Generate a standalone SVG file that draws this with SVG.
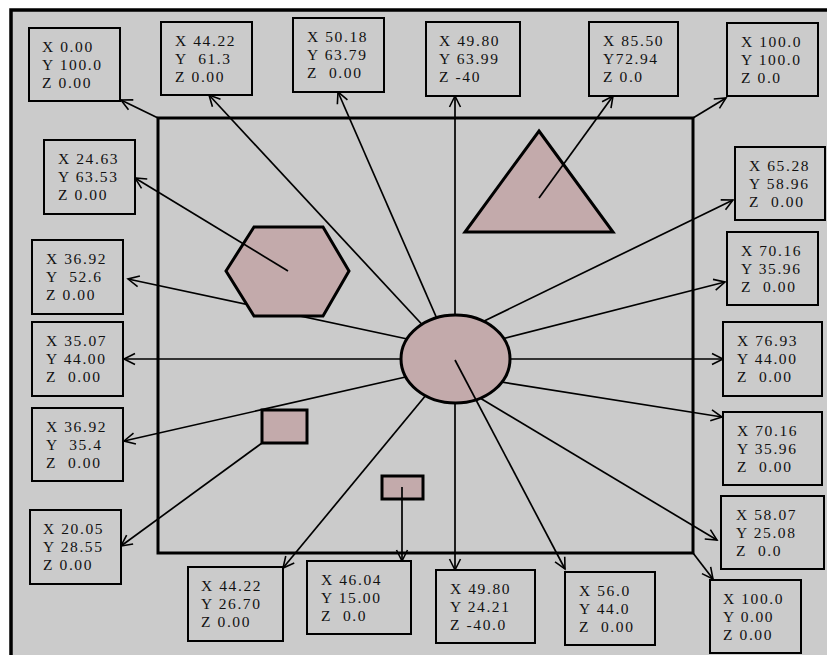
<svg xmlns="http://www.w3.org/2000/svg" width="827" height="655" viewBox="0 0 827 655">
  <defs>
    <marker id="arrow" markerUnits="userSpaceOnUse" markerWidth="16" markerHeight="16" viewBox="-12 -8 14 16" refX="0" refY="0" orient="auto">
      <path d="M-11,-5.5 L0,0 L-11,5.5" fill="none" stroke="#000" stroke-width="1.6"/>
    </marker>
  </defs>
  <style>
    .frame { fill: #cbcbcb; stroke: #000; stroke-width: 3.5; }
    .plate { fill: none; stroke: #000; stroke-width: 3; }
    .part { fill: #c3aaab; stroke: #000; stroke-width: 3; }
    .box { fill: #cbcbcb; stroke: #000; stroke-width: 2; }
    .lbl { font-family: "Liberation Serif", "Times New Roman", serif; font-size: 15.5px; letter-spacing: 1.6px; fill: #111; white-space: pre; }
    .wire { fill: none; stroke: #000; stroke-width: 1.7; marker-end: url(#arrow); }
  </style>

  <!-- sheet -->
  <rect x="0" y="0" width="827" height="655" fill="#ffffff"/>
  <rect x="11" y="10" width="830" height="660" class="frame"/>

  <!-- work plate -->
  <g id="plate">
    <rect x="158" y="118" width="535" height="435" class="plate"/>
  </g>

  <!-- leader lines running under the parts -->
  <g id="connectors">
    <path class="wire" d="M158,118 L121,100"/>
    <path class="wire" d="M455,360 L209,95"/>
    <path class="wire" d="M455,360 L338,92"/>
    <path class="wire" d="M455,360 L455,96"/>
    <path class="wire" d="M693,118 L726,98"/>
    <path class="wire" d="M412,340 L128,279"/>
    <path class="wire" d="M455,359 L124,359"/>
    <path class="wire" d="M410,376 L124,441"/>
    <path class="wire" d="M262,443 L121,546"/>
    <path class="wire" d="M455,360 L283,568"/>
    <path class="wire" d="M455,360 L455,570"/>
    <path class="wire" d="M475,395 L717,540"/>
    <path class="wire" d="M495,381 L722,417"/>
    <path class="wire" d="M455,359 L723,359"/>
    <path class="wire" d="M498,340 L725,282"/>
    <path class="wire" d="M478,324 L733,200"/>
    <path class="wire" d="M693,553 L713,579"/>
  </g>

  <!-- parts on the plate -->
  <g id="hexagon"><polygon class="part" points="226,271 254,227 323,227 349,271 323,316 254,316"/></g>
  <g id="triangle"><polygon class="part" points="539,131 613,232 465,232"/></g>
  <g id="ellipse"><ellipse class="part" cx="455.5" cy="359" rx="54.5" ry="44"/></g>
  <g id="rect-a"><rect class="part" x="262" y="410" width="45" height="33"/></g>
  <g id="rect-b"><rect class="part" x="382" y="476" width="41" height="23"/></g>

  <!-- leader lines starting inside a part -->
  <g id="pointers">
    <path class="wire" d="M539,198 L613,96"/>
    <path class="wire" d="M288,271 L135,178"/>
    <path class="wire" d="M402,487 L402,561"/>
    <path class="wire" d="M455,360 L565,569"/>
  </g>

  <!-- coordinate labels -->
  <g id="p01"><rect class="box" x="29" y="28" width="91" height="73"/><text class="lbl" x="42" y="52">X 0.00</text><text class="lbl" x="42" y="70">Y 100.0</text><text class="lbl" x="42" y="88">Z 0.00</text></g>
  <g id="p02"><rect class="box" x="161" y="22" width="91" height="73"/><text class="lbl" x="175" y="46">X 44.22</text><text class="lbl" x="175" y="64">Y  61.3</text><text class="lbl" x="175" y="82">Z 0.00</text></g>
  <g id="p03"><rect class="box" x="293" y="18" width="91" height="74"/><text class="lbl" x="307" y="42">X 50.18</text><text class="lbl" x="307" y="60">Y 63.79</text><text class="lbl" x="307" y="78">Z  0.00</text></g>
  <g id="p04"><rect class="box" x="426" y="22" width="94" height="74"/><text class="lbl" x="439" y="46">X 49.80</text><text class="lbl" x="439" y="64">Y 63.99</text><text class="lbl" x="439" y="82">Z -40</text></g>
  <g id="p05"><rect class="box" x="589" y="22" width="89" height="74"/><text class="lbl" x="603" y="46">X 85.50</text><text class="lbl" x="603" y="64">Y72.94</text><text class="lbl" x="603" y="82">Z 0.0</text></g>
  <g id="p06"><rect class="box" x="727" y="23" width="91" height="73"/><text class="lbl" x="741" y="47">X 100.0</text><text class="lbl" x="741" y="65">Y 100.0</text><text class="lbl" x="741" y="83">Z 0.0</text></g>
  <g id="p07"><rect class="box" x="44" y="140" width="91" height="74"/><text class="lbl" x="58" y="164">X 24.63</text><text class="lbl" x="58" y="182">Y 63.53</text><text class="lbl" x="58" y="200">Z 0.00</text></g>
  <g id="p08"><rect class="box" x="32" y="240" width="91" height="74"/><text class="lbl" x="46" y="264">X 36.92</text><text class="lbl" x="46" y="282">Y  52.6</text><text class="lbl" x="46" y="300">Z 0.00</text></g>
  <g id="p09"><rect class="box" x="32" y="322" width="91" height="74"/><text class="lbl" x="46" y="346">X 35.07</text><text class="lbl" x="46" y="364">Y 44.00</text><text class="lbl" x="46" y="382">Z  0.00</text></g>
  <g id="p10"><rect class="box" x="32" y="408" width="91" height="73"/><text class="lbl" x="46" y="432">X 36.92</text><text class="lbl" x="46" y="450">Y  35.4</text><text class="lbl" x="46" y="468">Z  0.00</text></g>
  <g id="p11"><rect class="box" x="30" y="510" width="91" height="74"/><text class="lbl" x="43" y="534">X 20.05</text><text class="lbl" x="43" y="552">Y 28.55</text><text class="lbl" x="43" y="570">Z 0.00</text></g>
  <g id="p12"><rect class="box" x="188" y="567" width="95" height="74"/><text class="lbl" x="201" y="591">X 44.22</text><text class="lbl" x="201" y="609">Y 26.70</text><text class="lbl" x="201" y="627">Z 0.00</text></g>
  <g id="p13"><rect class="box" x="307" y="561" width="104" height="73"/><text class="lbl" x="321" y="585">X 46.04</text><text class="lbl" x="321" y="603">Y 15.00</text><text class="lbl" x="321" y="621">Z  0.0</text></g>
  <g id="p14"><rect class="box" x="436" y="570" width="99" height="73"/><text class="lbl" x="450" y="594">X 49.80</text><text class="lbl" x="450" y="612">Y 24.21</text><text class="lbl" x="450" y="630">Z -40.0</text></g>
  <g id="p15"><rect class="box" x="565" y="572" width="90" height="73"/><text class="lbl" x="579" y="596">X 56.0</text><text class="lbl" x="579" y="614">Y 44.0</text><text class="lbl" x="579" y="632">Z  0.00</text></g>
  <g id="p16"><rect class="box" x="710" y="580" width="91" height="73"/><text class="lbl" x="723" y="604">X 100.0</text><text class="lbl" x="723" y="622">Y 0.00</text><text class="lbl" x="723" y="640">Z 0.00</text></g>
  <g id="p17"><rect class="box" x="721" y="496" width="103" height="73"/><text class="lbl" x="736" y="520">X 58.07</text><text class="lbl" x="736" y="538">Y 25.08</text><text class="lbl" x="736" y="556">Z  0.0</text></g>
  <g id="p18"><rect class="box" x="723" y="412" width="99" height="73"/><text class="lbl" x="737" y="436">X 70.16</text><text class="lbl" x="737" y="454">Y 35.96</text><text class="lbl" x="737" y="472">Z  0.00</text></g>
  <g id="p19"><rect class="box" x="723" y="322" width="99" height="74"/><text class="lbl" x="737" y="346">X 76.93</text><text class="lbl" x="737" y="364">Y 44.00</text><text class="lbl" x="737" y="382">Z  0.00</text></g>
  <g id="p20"><rect class="box" x="727" y="232" width="91" height="73"/><text class="lbl" x="741" y="256">X 70.16</text><text class="lbl" x="741" y="274">Y 35.96</text><text class="lbl" x="741" y="292">Z  0.00</text></g>
  <g id="p21"><rect class="box" x="735" y="147" width="90" height="73"/><text class="lbl" x="749" y="171">X 65.28</text><text class="lbl" x="749" y="189">Y 58.96</text><text class="lbl" x="749" y="207">Z  0.00</text></g>
</svg>
